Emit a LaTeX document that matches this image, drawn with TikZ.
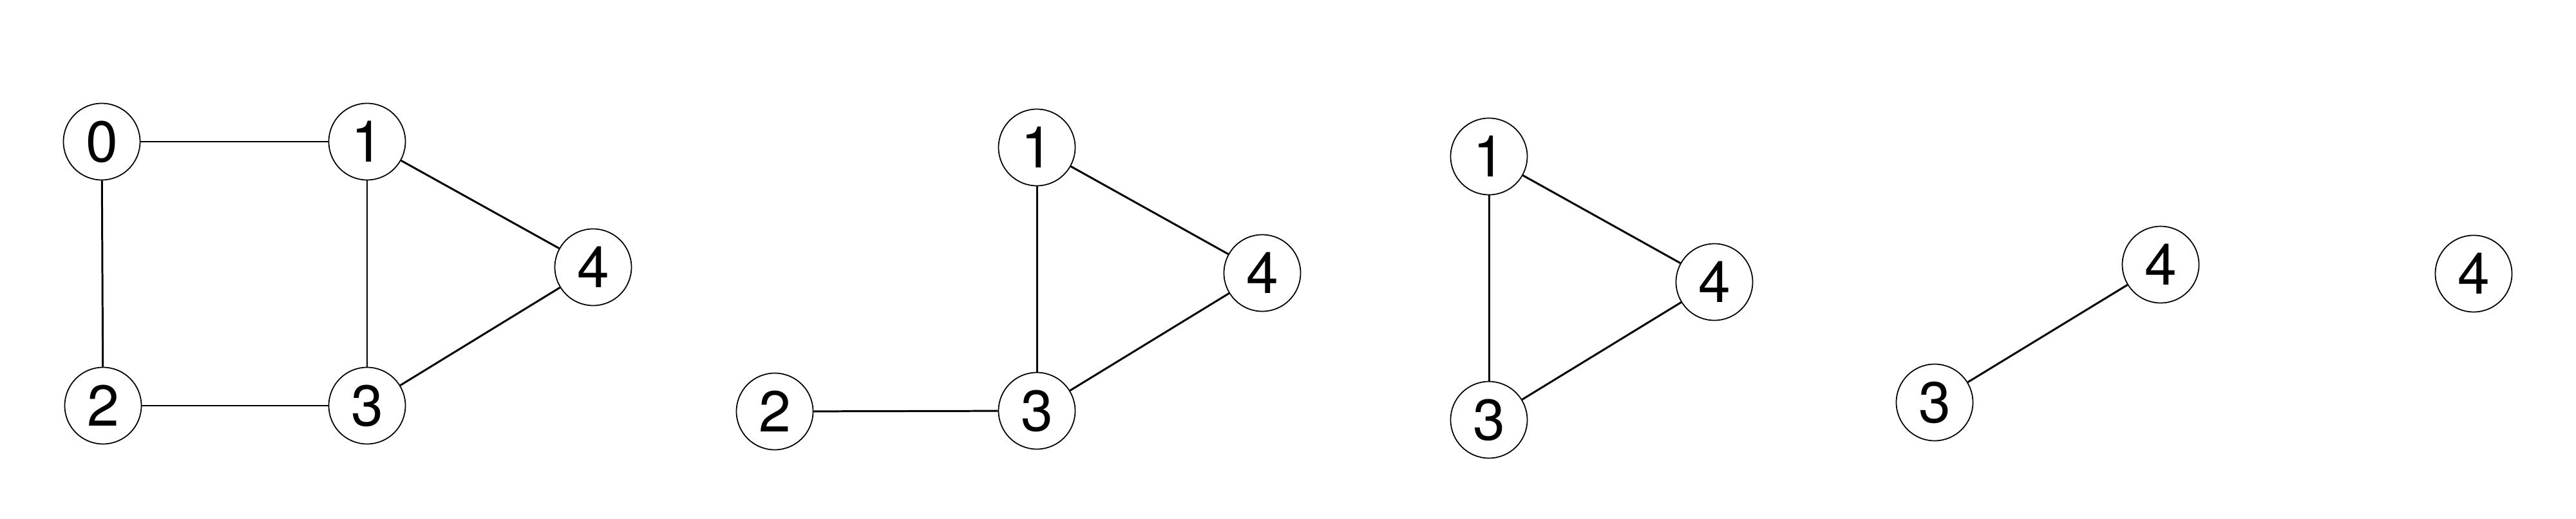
\documentclass[tikz,border=0pt]{standalone}
\usepackage{fontspec}
\setmainfont{TeX Gyre Heros}
\begin{document}
\begin{tikzpicture}[
  vtx/.style={circle,draw,line width=0.5pt,minimum size=1.19cm,inner sep=0pt,font=\fontsize{25.5}{25.5}\selectfont},
  edge/.style={line width=0.85pt}
]
\useasboundingbox (0,0) rectangle (40,8.05);
% graph 1
\node[vtx] (a0) at (1.58,5.85) {0};
\node[vtx] (a1) at (5.70,5.85) {1};
\node[vtx] (a4) at (9.21,3.90) {4};
\node[vtx] (a2) at (1.60,1.75) {2};
\node[vtx] (a3) at (5.70,1.75) {3};
\draw[edge] (a0) -- (a1);
\draw[edge] (a0) -- (a2);
\draw[edge] (a1) -- (a3);
\draw[edge] (a1) -- (a4);
\draw[edge] (a2) -- (a3);
\draw[edge] (a3) -- (a4);
% graph 2
\node[vtx] (b1) at (16.10,5.76) {1};
\node[vtx] (b4) at (19.60,3.81) {4};
\node[vtx] (b2) at (12.03,1.66) {2};
\node[vtx] (b3) at (16.10,1.67) {3};
\draw[edge] (b1) -- (b3);
\draw[edge] (b1) -- (b4);
\draw[edge] (b2) -- (b3);
\draw[edge] (b3) -- (b4);
% graph 3
\node[vtx] (c1) at (23.12,5.62) {1};
\node[vtx] (c4) at (26.62,3.67) {4};
\node[vtx] (c3) at (23.12,1.53) {3};
\draw[edge] (c1) -- (c3);
\draw[edge] (c1) -- (c4);
\draw[edge] (c3) -- (c4);
% graph 4
\node[vtx] (d4) at (33.55,3.94) {4};
\node[vtx] (d3) at (30.04,1.80) {3};
\draw[edge] (d3) -- (d4);
% graph 5
\node[vtx] (e4) at (38.41,3.80) {4};
\end{tikzpicture}
\end{document}
